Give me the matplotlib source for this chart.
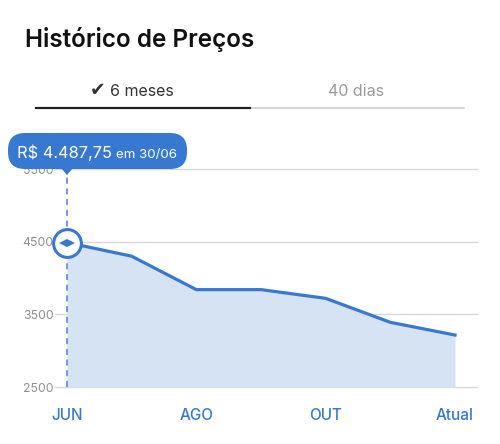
import numpy as np
import matplotlib
matplotlib.use('Agg')
import matplotlib.pyplot as plt
from matplotlib.patches import FancyBboxPatch, Polygon
from matplotlib.transforms import Affine2D, offset_copy

plt.rcParams['font.family'] = ['Inter', 'DejaVu Sans']

# data
months = ['JUN', 'JUL', 'AGO', 'SET', 'OUT', 'NOV', 'Atual']
prices = [4487.75, 4300, 3840, 3840, 3720, 3390, 3215]
shown_ticks = [0, 2, 4, 6]
y_ticks = [2500, 3500, 4500, 5500]
tabs = ['6 meses', '40 dias']
sel_date = '30/06'

blue = '#3778d0'
fill_blue = '#d6e3f3'
grid_col = '#d8d8d8'

W, H = 500, 444
fig = plt.figure(figsize=(W / 100, H / 100), dpi=100)
# pixel coords, y going down from the top
pix = Affine2D().scale(1 / 100, -1 / 100).translate(0, H / 100) + fig.dpi_scale_trans

# header
fig.text(25, 40, 'Histórico de Preços', transform=pix, fontsize=17.5, weight='semibold',
         va='center', ha='left', color='#111111')
fig.text(98, 91, '✔', transform=pix, fontsize=13.5, va='center', ha='center',
         color='#333333', family='DejaVu Sans')
fig.text(110, 91, tabs[0], transform=pix, fontsize=11.5, va='center', ha='left', color='#333333')
fig.text(356, 91, tabs[1], transform=pix, fontsize=11.5, va='center', ha='center', color='#9b9b9b')
fig.add_artist(plt.Line2D([250, 464], [108, 108], transform=pix, color='#cfcfcf', lw=1.2))
fig.add_artist(plt.Line2D([36, 250], [108, 108], transform=pix, color='#222222', lw=1.6))

# chart area
ax = fig.add_axes([55 / W, (H - 387) / H, (477 - 55) / W, (387 - 169) / H])
n = len(prices)
x = np.arange(n)
x0_px, step_px = 67, (455 - 67) / (n - 1)
ax.set_xlim((55 - x0_px) / step_px, (477 - x0_px) / step_px)
ax.set_ylim(y_ticks[0], y_ticks[-1])
for s in ax.spines.values():
    s.set_visible(False)
for yv in y_ticks:
    ax.axhline(yv, color=grid_col, lw=1, zorder=1, clip_on=False)

ax.fill_between(x, prices, y_ticks[0], color=fill_blue, lw=0, zorder=2)
ax.plot(x, prices, color=blue, lw=2.3, solid_joinstyle='round', zorder=3)
ax.plot([0, 0], [y_ticks[0], y_ticks[-1]], color='#4f80d4', lw=1.1, ls=(0, (4, 3)),
        zorder=4, clip_on=False)
ax.plot([0], [prices[0]], marker='o', ms=20, mfc='white', mec=blue, mew=2.2,
        zorder=6, clip_on=False)
# little left/right handle arrows inside the knob
for dx, mk in [(-2.6, '<'), (2.6, '>')]:
    tr = offset_copy(ax.transData, fig=fig, x=dx, y=0, units='points')
    ax.plot([0], [prices[0]], marker=mk, ms=5.5, color=blue, mew=0, transform=tr,
            zorder=7, clip_on=False)

ax.set_yticks(y_ticks)
ax.set_yticklabels([str(v) for v in y_ticks])
ax.tick_params(axis='y', length=0, pad=1, labelsize=8.8, labelcolor='#8e8e8e')
ax.set_xticks(shown_ticks)
ax.set_xticklabels([months[i] for i in shown_ticks], weight='medium')
ax.tick_params(axis='x', length=0, pad=15, labelsize=11, labelcolor=blue)

# tooltip
fig.add_artist(FancyBboxPatch((8, 133), 179, 36, boxstyle='round,pad=0,rounding_size=17',
                              transform=pix, fc=blue, ec='none', zorder=5))
fig.add_artist(Polygon([[61, 168], [73, 168], [67, 175]], closed=True, transform=pix,
                       fc=blue, ec='none', zorder=5))
price_str = f'{prices[0]:,.2f}'.replace(',', 'X').replace('.', ',').replace('X', '.')
t = fig.text(17, 158, f'R$ {price_str}', transform=pix, fontsize=11.8, color='white',
             va='baseline', ha='left', zorder=6)
fig.canvas.draw()
bb = t.get_window_extent()
fig.text(bb.x1 + 4, 158, f'em {sel_date}', transform=pix, fontsize=9.6, color='white',
         va='baseline', ha='left', zorder=6)

fig.savefig('out.png', dpi=100, facecolor='white')
